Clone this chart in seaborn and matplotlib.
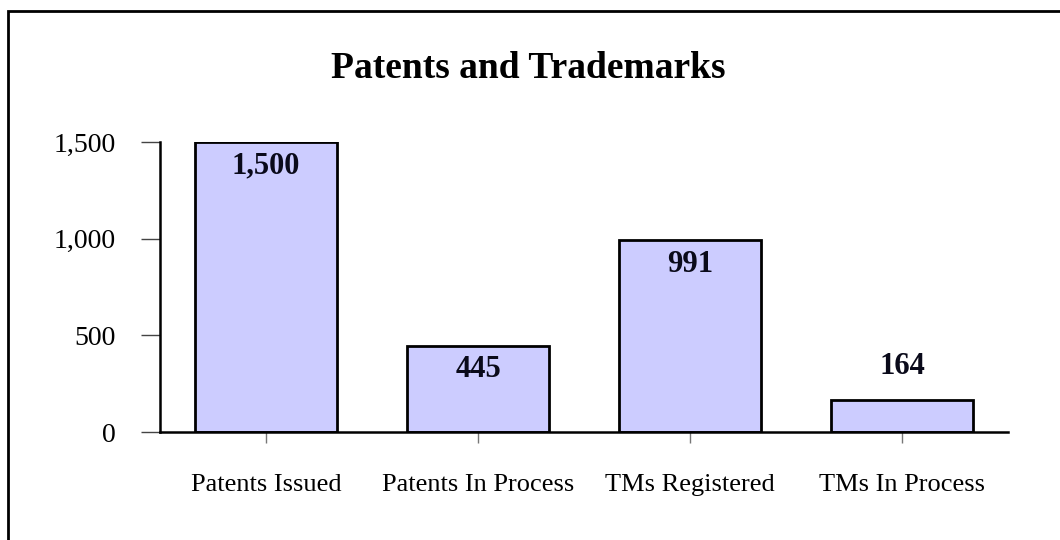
import numpy as np
import matplotlib
matplotlib.use("Agg")
import matplotlib.pyplot as plt
import matplotlib.ticker as mticker
from matplotlib.patches import Rectangle
import seaborn as sns
import pandas as pd

categories = ["Patents Issued", "Patents In Process", "TMs Registered", "TMs In Process"]
counts = [1500, 445, 991, 164]
label_inside = [True, True, True, False]
yticks = [0, 500, 1000, 1500]

sns.set_style("white")
plt.rcParams["font.family"] = ["Liberation Serif", "DejaVu Serif"]
plt.rcParams["text.color"] = "black"
plt.rcParams["xtick.color"] = "black"
plt.rcParams["ytick.color"] = "black"

df = pd.DataFrame({"category": categories, "count": counts})

fig = plt.figure(figsize=(10.6, 5.4), dpi=100)
ax = fig.add_axes([0.151, 0.2, 0.8, 0.537])

sns.barplot(data=df, x="category", y="count", color="#ccccff", saturation=1,
            edgecolor="black", linewidth=2, width=0.67, ax=ax)

# value labels: inside bar top, or above for the short one
for i, (v, inside) in enumerate(zip(counts, label_inside)):
    off = -24 if inside else 34
    ax.annotate(f"{v:,}", (i, v), xytext=(0, off), textcoords="offset pixels",
                ha="center", va="center", fontsize=22, fontweight="bold", color="#0a0a1a")

ax.set_xlim(-0.5, 3.5)
ax.set_ylim(0, 1500)
ax.set_yticks(yticks)
ax.yaxis.set_major_formatter(mticker.StrMethodFormatter("{x:,.0f}"))
ax.set_xlabel("")
ax.set_ylabel("")
for s in ["top", "right"]:
    ax.spines[s].set_visible(False)
ax.spines["left"].set_linewidth(1.8)
ax.spines["bottom"].set_linewidth(1.8)
ax.spines["left"].set_color("black")
ax.spines["bottom"].set_color("black")
ax.tick_params(axis="y", left=True, length=14, width=1, color="#444444", pad=18,
               labelsize=20, labelcolor="black")
ax.tick_params(axis="x", bottom=True, length=8, width=1, color="#777777", pad=22,
               labelsize=19, labelcolor="black")

fig.suptitle("Patents and Trademarks", x=0.498, y=0.905, fontsize=27,
             fontweight="bold", color="black")

# outer frame (only top and left edges are inside the picture)
fig.patches.append(Rectangle((8 / 1060, -0.1), 1.2, (540 - 11) / 540 + 0.1,
                             transform=fig.transFigure, fill=False,
                             edgecolor="black", linewidth=2))

fig.savefig("out.png", dpi=100, facecolor="white")
